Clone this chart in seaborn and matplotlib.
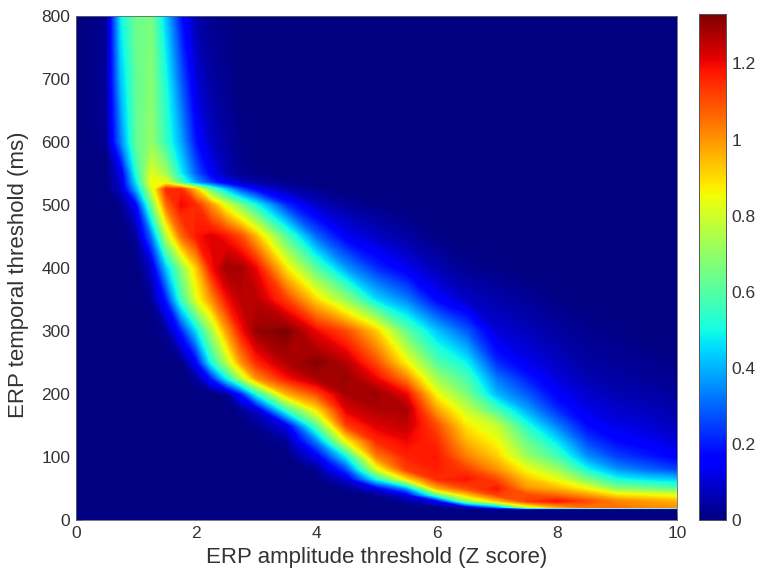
import matplotlib
matplotlib.use('Agg')
import matplotlib.pyplot as plt
import numpy as np
import pandas as pd
import seaborn as sns

# thresholds
amp_thresholds = [0, .5, .75, 1, 1.25, 1.5, 1.75, 2, 2.25, 2.5, 2.75, 3, 3.5,
                  4, 4.5, 5, 5.5, 6, 6.5, 7, 7.5, 8, 8.5, 9, 9.5, 10]
time_thresholds = [0, 17, 20, 30, 40, 50, 65, 80, 100, 125, 150, 175, 200, 225,
                   250, 300, 350, 400, 450, 500, 525, 535, 550, 600, 700, 800]

# one row per temporal threshold
values = [
    [0,0,0,0,0,0,0,0,0,0,0,0, 0,0,0,0,0,0,0,0,0,0,0,0,0,0],
    [0,0,0,0,0,0,0,0,0,0,0,0, 0,0,0,0,0,0,0,0,0,0,0,0,0,0],
    [0,0,0,0,0,0,0,0,0,0,0,0, 0,0,0,0,0,.02,.05,.3,.75,.95,1.05,1.05,1.02,1.0],
    [0,0,0,0,0,0,0,0,0,0,0,0, 0,0,0,0,.03,.12,.68,.92,1.12,1.18,1.1,1.02,.98,.95],
    [0,0,0,0,0,0,0,0,0,0,0,0, 0,0,0,.02,.12,.6,.92,1.12,1.1,1.05,.98,.88,.85,.82],
    [0,0,0,0,0,0,0,0,0,0,0,0, 0,0,.02,.12,.35,.95,1.1,1.18,1.0,.95,.85,.68,.65,.6],
    [0,0,0,0,0,0,0,0,0,0,0,0, 0,0,.1,.5,.88,1.15,1.18,1.1,.93,.83,.66,.5,.45,.42],
    [0,0,0,0,0,0,0,0,0,0,0,0, 0,.02,.25,.8,1.12,1.17,1.12,1.0,.85,.72,.5,.36,.3,.25],
    [0,0,0,0,0,0,0,0,0,0,0,0, 0,.12,.47,1.02,1.16,1.18,1.03,.92,.72,.58,.36,.25,.2,.15],
    [0,0,0,0,0,0,0,0,0,0,0,0, .03,.32,.85,1.15,1.2,1.15,.95,.85,.63,.46,.25,.17,.14,.1],
    [0,0,0,0,0,0,0,0,0,0,0,.02, .12,.6,1.12,1.22,1.25,1.1,.88,.78,.52,.33,.17,.12,.1,.07],
    [0,0,0,0,0,0,0,0,0,0,.03,.08, .55,.88,1.22,1.27,1.28,.98,.78,.58,.38,.22,.12,.09,.07,.05],
    [0,0,0,0,0,0,0,0,0,.02,.2,.5, .95,1.1,1.28,1.3,1.2,.85,.66,.4,.28,.15,.09,.06,.05,.03],
    [0,0,0,0,0,0,0,.03,.2,.48,.75,1.0, 1.18,1.28,1.3,1.2,1.02,.72,.58,.32,.2,.11,.06,.04,.03,.02],
    [0,0,0,0,0,0,0,.15,.5,.75,1.0,1.15, 1.27,1.32,1.26,1.1,.86,.6,.48,.22,.13,.08,.04,.03,.02,.01],
    [0,0,0,0,0,.03,.2,.45,.72,.98,1.18,1.3, 1.33,1.2,1.1,.92,.62,.42,.28,.1,.07,.04,.02,.01,0,0],
    [0,0,0,0,.02,.2,.55,.82,1.0,1.18,1.26,1.26, 1.12,.9,.7,.45,.33,.16,.08,.05,.03,.01,0,0,0,0],
    [0,0,0,0,.08,.42,.68,.92,1.18,1.29,1.28,1.2, .88,.6,.36,.22,.13,.06,.02,.01,0,0,0,0,0,0],
    [0,0,0,.03,.3,.75,1.05,1.18,1.22,1.18,1.1,.95, .6,.3,.14,.08,.04,.01,0,0,0,0,0,0,0,0],
    [0,0,.02,.15,.62,1.05,1.2,1.15,1.0,.82,.66,.5, .22,.08,.03,.01,0,0,0,0,0,0,0,0,0,0],
    [0,0,.08,.38,.78,1.15,1.15,.92,.62,.42,.25,.15, .05,.02,0,0,0,0,0,0,0,0,0,0,0,0],
    [0,0,.1,.45,.85,.85,.6,.38,.24,.14,.08,.05, .02,0,0,0,0,0,0,0,0,0,0,0,0,0],
    [0,0,.12,.52,.82,.72,.48,.28,.14,.06,.02,.01, 0,0,0,0,0,0,0,0,0,0,0,0,0,0],
    [0,.02,.33,.62,.7,.55,.38,.18,.08,.04,.01,0, 0,0,0,0,0,0,0,0,0,0,0,0,0,0],
    [0,.03,.42,.62,.68,.5,.28,.1,.04,.02,0,0, 0,0,0,0,0,0,0,0,0,0,0,0,0,0],
    [0,.02,.48,.64,.66,.42,.18,.05,.02,.01,0,0, 0,0,0,0,0,0,0,0,0,0,0,0,0,0],
]

x_ticks = [0, 2, 4, 6, 8, 10]
y_ticks = [0, 100, 200, 300, 400, 500, 600, 700, 800]
cbar_ticks = [0, .2, .4, .6, .8, 1, 1.2]
cbar_labels = ['0', '0.2', '0.4', '0.6', '0.8', '1', '1.2']
vmax = 1.33

sns.set_style('white')
plt.rcParams['font.family'] = ['Liberation Sans', 'DejaVu Sans']
text_col = '#333333'

df = pd.DataFrame(values, index=time_thresholds, columns=amp_thresholds)

fig = plt.figure(figsize=(7.6, 5.76), dpi=100)
ax = fig.add_axes([76/760, 56/576, 601/760, 504/576])
cax = fig.add_axes([699/760, 56/576, 27/760, 506/576])

# heatmap gives the colorbar, contourf on top does the smooth, unevenly spaced cells
sns.heatmap(df, ax=ax, cbar_ax=cax, cmap='jet', vmin=0, vmax=vmax,
            xticklabels=False, yticklabels=False)
ax.collections[0].set_visible(False)
ax.set_facecolor(plt.get_cmap('jet')(0))
ax.contourf(df.columns, df.index, df.values, levels=np.linspace(0, vmax, 200),
            cmap='jet', vmin=0, vmax=vmax, antialiased=False)

ax.set_xlim(0, 10)
ax.set_ylim(0, 800)
ax.set_xticks(x_ticks)
ax.set_xticklabels([str(t) for t in x_ticks])
ax.set_yticks(y_ticks)
ax.set_yticklabels([str(t) for t in y_ticks])
ax.tick_params(direction='in', length=4, width=0.6, color='#555555',
               labelsize=12.5, labelcolor=text_col, pad=4, bottom=True, left=True)
ax.set_xlabel('ERP amplitude threshold (Z score)', fontsize=16, color=text_col, va='center')
ax.set_ylabel('ERP temporal threshold (ms)', fontsize=16, color=text_col, va='center')
ax.xaxis.set_label_coords(0.5, -38/504)
ax.yaxis.set_label_coords(-57/601, 245/504)
for s in ax.spines.values():
    s.set_visible(True)
    s.set_color('#666666')
    s.set_linewidth(0.6)

cax.set_yticks(cbar_ticks)
cax.set_yticklabels(cbar_labels)
cax.tick_params(direction='in', length=3, width=0.6, color='#444444',
                labelsize=12.5, labelcolor=text_col, pad=4, right=True)
for s in cax.spines.values():
    s.set_visible(True)
    s.set_color('#555555')
    s.set_linewidth(0.6)

fig.savefig('out.png', dpi=100)
